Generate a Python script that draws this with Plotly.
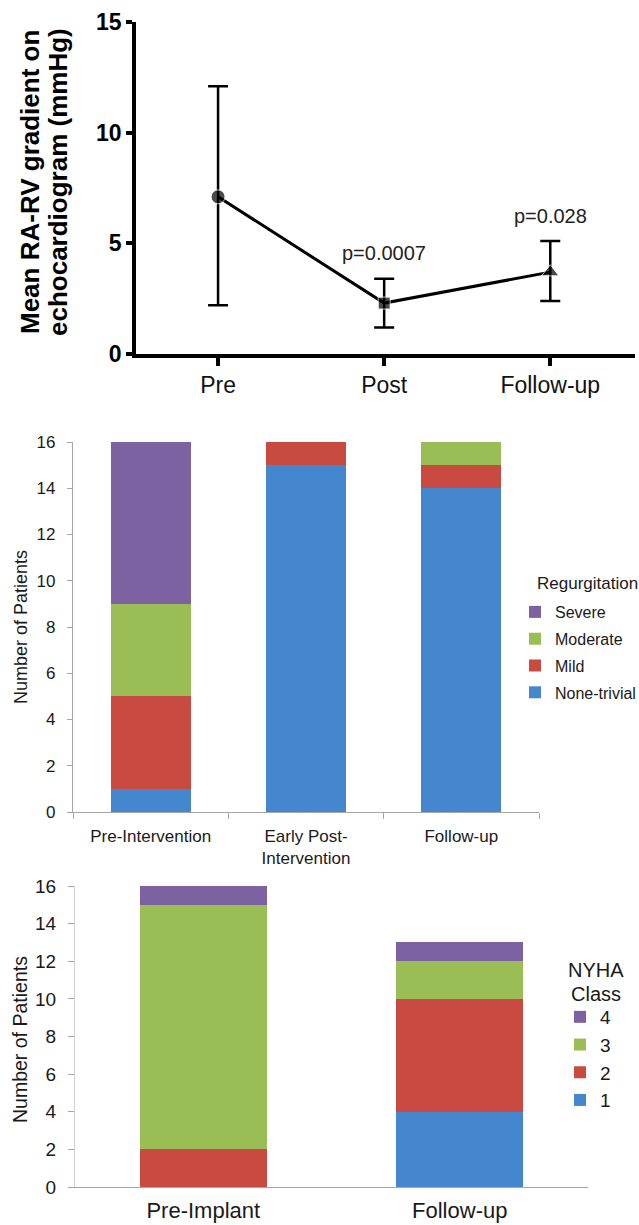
import plotly.graph_objects as go

# ---- Data ----
stages = ["Pre", "Post", "Follow-up"]
mean_gradient = [7.1, 2.3, 3.7]
gradient_err_plus = [5.0, 1.1, 1.4]
gradient_err_minus = [4.9, 1.1, 1.3]
p_labels = ["", "p=0.0007", "p=0.028"]
p_label_y = [None, 4.55, 6.25]

regurg_cats = ["Pre-Intervention", "Early Post-<br>Intervention", "Follow-up"]
regurg_none = [1, 15, 14]
regurg_mild = [4, 1, 1]
regurg_moderate = [4, 0, 1]
regurg_severe = [7, 0, 0]

nyha_cats = ["Pre-Implant", "Follow-up"]
nyha_1 = [0, 4]
nyha_2 = [2, 6]
nyha_3 = [13, 2]
nyha_4 = [1, 1]

BLUE = "#4487cf"
RED = "#c94a41"
GREEN = "#9abd55"
PURPLE = "#7c62a0"
FONT = "Arial, Liberation Sans, sans-serif"

W, H = 639, 1225
def px(xp):
    return xp / W
def py(yp):
    return 1 - yp / H

fig = go.Figure()

# ---- Top chart: line with error bars ----
fig.add_trace(go.Scatter(
    x=stages, y=mean_gradient, mode="lines+markers",
    line=dict(color="black", width=3),
    marker=dict(symbol=["circle", "square", "triangle-up"], size=[14, 12, 15], color="black"),
    error_y=dict(type="data", array=gradient_err_plus, arrayminus=gradient_err_minus,
                 color="black", thickness=2.5, width=10),
    xaxis="x", yaxis="y", showlegend=False,
))

# ---- Middle chart: regurgitation ----
for rank, (name, vals, col) in enumerate([("None-trivial", regurg_none, BLUE), ("Mild", regurg_mild, RED),
                                          ("Moderate", regurg_moderate, GREEN), ("Severe", regurg_severe, PURPLE)]):
    fig.add_trace(go.Bar(x=regurg_cats, y=vals, name=name, width=0.516,
                         marker=dict(color=col, line=dict(width=0)),
                         xaxis="x2", yaxis="y2", legend="legend", legendgroup="r" + name,
                         legendrank=10 - rank))

# ---- Bottom chart: NYHA ----
for rank, (name, vals, col) in enumerate([("1", nyha_1, BLUE), ("2", nyha_2, RED),
                                          ("3", nyha_3, GREEN), ("4", nyha_4, PURPLE)]):
    fig.add_trace(go.Bar(x=nyha_cats, y=vals, name=name, width=0.496,
                         marker=dict(color=col, line=dict(width=0)),
                         xaxis="x3", yaxis="y3", legend="legend2", legendgroup="n" + name,
                         legendrank=10 - rank))

axis_gray = "#a6a6a6"
common = dict(showgrid=False, zeroline=False, automargin=False)
fig.update_layout(
    template="none",
    width=W, height=H, margin=dict(l=0, r=0, t=0, b=0, autoexpand=False),
    paper_bgcolor="white", plot_bgcolor="white",
    font=dict(family=FONT, color="#1a1a1a"),
    barmode="stack",
    xaxis=dict(domain=[px(136), px(635)], range=[-0.494, 2.51], type="category",
               showline=True, linecolor="black", linewidth=3.5,
               ticks="outside", ticklen=8, tickwidth=3.5, tickcolor="black",
               tickfont=dict(size=23, color="#111"), anchor="y", **common),
    yaxis=dict(domain=[py(354), py(22)], range=[0, 15], tickvals=[0, 5, 10, 15],
               showline=True, linecolor="black", linewidth=3.5,
               ticks="outside", ticklen=6, tickwidth=3.5, tickcolor="black",
               tickfont=dict(size=23, color="black", weight="bold"), anchor="x", **common),
    xaxis2=dict(domain=[px(73), px(539)], range=[-0.5, 2.5], type="category",
                showline=True, linecolor=axis_gray, linewidth=1.2,
                ticks="outside", ticklen=6, tickcolor=axis_gray, tickson="boundaries",
                ticklabelstandoff=8,
                tickfont=dict(size=17, color="#1a1a1a"), anchor="y2", **common),
    yaxis2=dict(domain=[py(812), py(442)], range=[0, 16], dtick=2,
                showline=True, linecolor=axis_gray, linewidth=1.2,
                ticks="outside", ticklen=5, tickcolor=axis_gray, ticklabelstandoff=8,
                tickfont=dict(size=17, color="#1a1a1a"), anchor="x2", **common),
    xaxis3=dict(domain=[px(75), px(588)], range=[-0.5, 1.5], type="category",
                showline=True, linecolor=axis_gray, linewidth=1.2,
                ticks="", ticklabelstandoff=3, tickfont=dict(size=22, color="#1a1a1a"),
                anchor="y3", **common),
    yaxis3=dict(domain=[py(1187), py(886)], range=[0, 16], dtick=2,
                showline=True, linecolor="#d0d0d0", linewidth=1.2,
                ticks="outside", ticklen=6, tickcolor=axis_gray, ticklabelstandoff=8,
                tickfont=dict(size=19, color="#1a1a1a"), anchor="x3", **common),
    legend=dict(x=px(515), y=py(595), xanchor="left", yanchor="top", traceorder="grouped",
                font=dict(size=16, color="#1a1a1a"), tracegroupgap=3, bgcolor="rgba(0,0,0,0)"),
    legend2=dict(x=px(560), y=py(998), xanchor="left", yanchor="top", traceorder="normal",
                 font=dict(size=19, color="#1a1a1a"), tracegroupgap=0, bgcolor="rgba(0,0,0,0)"),
)

annotations = [
    dict(text="<b>Mean RA-RV gradient on</b>", x=px(30), y=py(182),
         xref="paper", yref="paper", textangle=-90, showarrow=False,
         font=dict(size=26, color="black"), xanchor="center", yanchor="middle"),
    dict(text="<b>echocardiogram (mmHg)</b>", x=px(58), y=py(182),
         xref="paper", yref="paper", textangle=-90, showarrow=False,
         font=dict(size=26, color="black"), xanchor="center", yanchor="middle"),
    dict(text="Number of Patients", x=px(21), y=py(627), xref="paper", yref="paper", textangle=-90,
         showarrow=False, font=dict(size=18, color="#1a1a1a"), xanchor="center", yanchor="middle"),
    dict(text="Number of Patients", x=px(20), y=py(1040), xref="paper", yref="paper", textangle=-90,
         showarrow=False, font=dict(size=19.5, color="#1a1a1a"), xanchor="center", yanchor="middle"),
    dict(text="Regurgitation", x=px(535), y=py(584), xref="paper", yref="paper", showarrow=False,
         font=dict(size=17, color="#1a1a1a"), xanchor="left", yanchor="middle"),
    dict(text="NYHA", x=px(596), y=py(970), xref="paper", yref="paper", showarrow=False,
         font=dict(size=20, color="#1a1a1a"), xanchor="center", yanchor="middle"),
    dict(text="Class", x=px(596), y=py(994), xref="paper", yref="paper", showarrow=False,
         font=dict(size=20, color="#1a1a1a"), xanchor="center", yanchor="middle"),
]
for s, lab, yv in zip(stages, p_labels, p_label_y):
    if lab:
        annotations.append(dict(text=lab, x=s, y=yv, xref="x", yref="y", showarrow=False,
                                font=dict(size=20, color="#222"), xanchor="center", yanchor="middle"))
fig.update_layout(annotations=annotations)

fig.write_html("out.html", config={"displayModeBar": False},
               post_script="document.body.style.margin='0';document.body.style.overflow='hidden';")
